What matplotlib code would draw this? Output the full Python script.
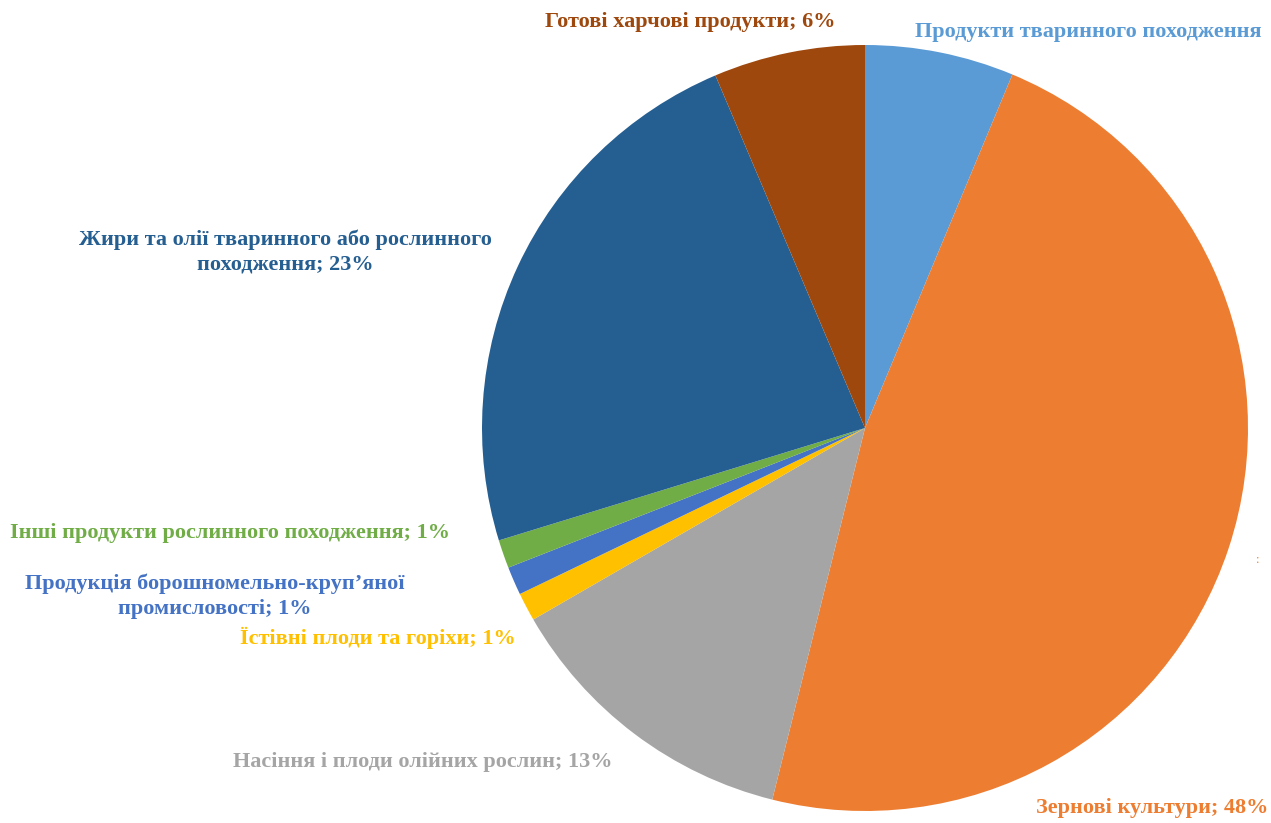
import matplotlib.pyplot as plt

# Data (clockwise from 12 o'clock)
labels = [
    'Продукти тваринного походження',
    'Зернові культури; 48%',
    'Насіння і плоди олійних рослин; 13%',
    'Їстівні плоди та горіхи; 1%',
    'Продукція борошномельно-круп\u2019яної\nпромисловості; 1%',
    'Інші продукти рослинного походження; 1%',
    'Жири та олії тваринного або рослинного\nпоходження; 23%',
    'Готові харчові продукти; 6%',
]
shares = [6.3, 47.7, 12.8, 1.2, 1.2, 1.2, 23.4, 6.4]
colors = ['#5B9BD5', '#ED7D31', '#A5A5A5', '#FFC000',
          '#4472C4', '#70AD47', '#255E91', '#9E480E']

# label centres in pixel coords (x, y from top)
label_pos = [(1088, 32), (1152, 808), (423, 762), (378, 638),
             (215, 596), (230, 533), (285, 252), (690, 22)]

W, H = 1271, 823
fig = plt.figure(figsize=(W / 100, H / 100), dpi=100)
ax = fig.add_axes([0, 0, 1, 1])

ax.pie(shares, colors=colors, startangle=90, counterclock=False,
       center=(865, H - 428), radius=383,
       wedgeprops={'linewidth': 0})

ax.set_xlim(0, W)
ax.set_ylim(0, H)
ax.set_aspect('equal')
ax.axis('off')

for lab, (x, y), c in zip(labels, label_pos, colors):
    ax.text(x, H - y, lab, ha='center', va='center', color=c,
            fontsize=16, fontweight='bold', family='Liberation Serif',
            linespacing=1.32)

# stray label remnant at the right edge
ax.text(1258, H - 560, ':', ha='center', va='center', color='#ED7D31',
        fontsize=9, family='Liberation Serif')

fig.savefig('out.png', dpi=100)
